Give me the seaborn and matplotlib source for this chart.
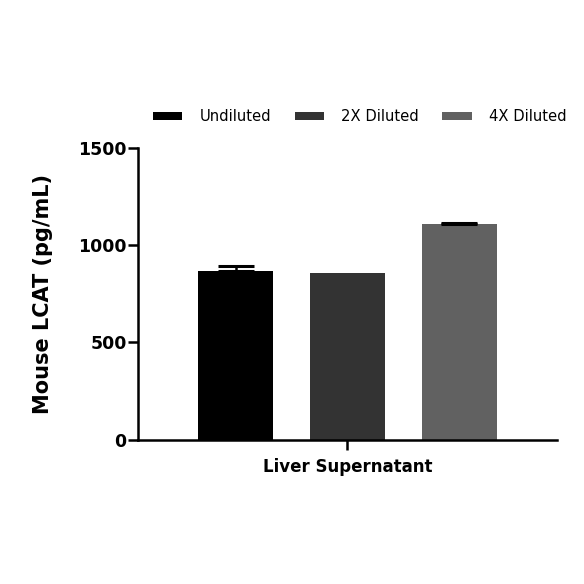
import matplotlib
matplotlib.use("Agg")
import matplotlib.pyplot as plt
import seaborn as sns
import pandas as pd
from matplotlib.patches import Patch

categories = ["Liver Supernatant"]
series = ["Undiluted", "2X Diluted", "4X Diluted"]
means = [868, 859, 1109]
errors = [24, 0, 7]
colors = ["#000000", "#333333", "#616161"]
yticks = [0, 500, 1000, 1500]

df = pd.DataFrame({"Sample": categories * len(series), "Dilution": series, "Value": means})

sns.set_style("ticks")
plt.rcParams["font.family"] = ["DejaVu Sans"]
plt.rcParams["text.color"] = "black"
plt.rcParams["axes.labelcolor"] = "black"
plt.rcParams["xtick.color"] = "black"
plt.rcParams["ytick.color"] = "black"
plt.rcParams["axes.edgecolor"] = "black"

fig = plt.figure(figsize=(5.84, 5.84), dpi=100)
ax = fig.add_axes([0.236, 0.247, 0.718, 0.500])

sns.barplot(data=df, x="Sample", y="Value", hue="Dilution", hue_order=series,
            palette=colors, errorbar=None, width=0.8, gap=0.33, ax=ax,
            edgecolor="none", legend=False)

for bar, err in zip(ax.patches[:len(series)], errors):
    cx = bar.get_x() + bar.get_width() / 2
    h = bar.get_height()
    if err > 0:
        ax.errorbar(cx, h, yerr=[[0], [err]], fmt="none", ecolor="black",
                    elinewidth=1.8, capsize=13, capthick=2.2, zorder=3)

ax.set_xlim(-0.5, 0.5)
ax.set_ylim(0, 1500)
ax.set_yticks(yticks)
ax.set_yticklabels([str(t) for t in yticks], fontsize=12.5, fontweight="bold")
ax.set_xticks([0])
ax.set_xticklabels(categories, fontsize=12, fontweight="bold")
ax.set_xlabel("")
ax.set_ylabel("Mouse LCAT (pg/mL)", fontsize=15, fontweight="bold", labelpad=18)

for s in ["top", "right"]:
    ax.spines[s].set_visible(False)
for s in ["left", "bottom"]:
    ax.spines[s].set_linewidth(1.8)
    ax.spines[s].set_color("black")
ax.tick_params(axis="both", width=1.8, length=7, direction="out", colors="black")
ax.tick_params(axis="y", pad=1)
ax.tick_params(axis="x", pad=6)

handles = [Patch(facecolor=c, edgecolor="none") for c in colors]
fig.legend(handles, series, loc="center left", bbox_to_anchor=(0.262, 0.8), ncol=3,
           frameon=False, fontsize=10.6, handlelength=2.0, handleheight=0.4,
           columnspacing=1.6, handletextpad=1.15, borderpad=0, borderaxespad=0)

fig.savefig("out.png", dpi=100)
